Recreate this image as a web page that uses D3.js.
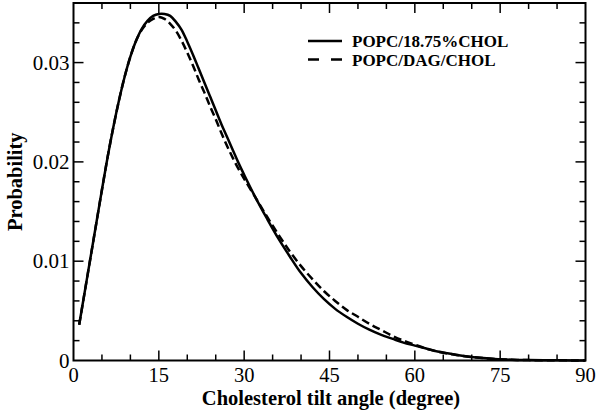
<!DOCTYPE html>
<html><head><meta charset="utf-8">
<script src="https://cdn.jsdelivr.net/npm/d3@7"></script>
<style>body{margin:0;background:#fff}svg{display:block}</style>
</head><body>
<svg id="c" width="600" height="412"></svg>
<script>
const xMajor = [0, 15, 30, 45, 60, 75, 90];
const yMajor = [0, 0.01, 0.02, 0.03];
const seriesNames = ["POPC/18.75%CHOL", "POPC/DAG/CHOL"];
const angles = [1,2,3,4,5,6,7,8,9,10,11,12,13,14,15,16,17,18,19,20,21,22,23,24,25,26,27,28,29,30,32,34,36,38,40,42,44,46,48,50,52,54,56,58,60,62,64,66,68,70,72,74,76,78,80,84,88,90];
const popcChol = [0.0036,0.0070,0.0104,0.0138,0.0172,0.0205,0.0235,0.0262,0.0286,0.0306,0.0322,0.0334,0.0342,0.0347,0.0349,0.0349,0.0347,0.0341,0.0333,0.0321,0.0308,0.0294,0.0280,0.0266,0.0252,0.0238,0.0225,0.0212,0.0199,0.0187,0.0164,0.0143,0.0123,0.0105,0.0088,0.0074,0.0062,0.0052,0.0044,0.0037,0.0031,0.0026,0.0022,0.0018,0.0015,0.0012,0.0009,0.0007,0.0005,0.00035,0.00024,0.00015,0.0001,0.00006,0.00004,0.00002,0.00001,0];
const popcDagChol = [0.0036,0.0070,0.0104,0.0138,0.0172,0.0205,0.0235,0.0262,0.0286,0.0306,0.0322,0.0333,0.0340,0.0344,0.0346,0.0344,0.0339,0.0332,0.0322,0.0310,0.0297,0.0283,0.0270,0.0256,0.0243,0.0229,0.0216,0.0204,0.0193,0.0183,0.0164,0.0145,0.0127,0.0110,0.0095,0.0082,0.0070,0.0060,0.0051,0.0044,0.0037,0.0031,0.0025,0.0020,0.0016,0.0012,0.0009,0.0007,0.0005,0.00035,0.00024,0.00015,0.0001,0.00006,0.00004,0.00002,0.00001,0];

const svg = d3.select("#c");
const L = 73.5, R = 585.5, T = 3, B = 360.5;
const x = d3.scaleLinear().domain([0, 90]).range([L, R]);
const y = d3.scaleLinear().domain([0, 0.036]).range([B, T]);
const serif = "'Liberation Serif','Times New Roman',serif";

const xMinor = d3.range(0, 90.01, 5).filter(v => !xMajor.includes(v));
const yMinor = d3.range(0, 0.0361, 0.002).map(v => +v.toFixed(3)).filter(v => !yMajor.some(m => Math.abs(m - v) < 1e-9));

const g = svg.append("g").attr("stroke", "#000").attr("stroke-width", 1.5);
function ticks(vals, len) {
  vals.forEach(v => {
    g.append("line").attr("x1", x(v)).attr("x2", x(v)).attr("y1", B).attr("y2", B - len);
    g.append("line").attr("x1", x(v)).attr("x2", x(v)).attr("y1", T).attr("y2", T + len);
  });
}
function yticks(vals, len) {
  vals.forEach(v => {
    g.append("line").attr("y1", y(v)).attr("y2", y(v)).attr("x1", L).attr("x2", L + len);
    g.append("line").attr("y1", y(v)).attr("y2", y(v)).attr("x1", R).attr("x2", R - len);
  });
}
ticks(xMajor.filter(v => v > 0 && v < 90), 10);
ticks(xMinor, 6);
yticks(yMajor.filter(v => v > 0), 10);
yticks(yMinor, 6);

const line = d3.line().x(d => x(d[0])).y(d => y(d[1])).curve(d3.curveCatmullRom.alpha(0.5));
svg.append("path").datum(angles.map((a, i) => [a, popcChol[i]]))
  .attr("d", line).attr("fill", "none").attr("stroke", "#000").attr("stroke-width", 2.5);
svg.append("path").datum(angles.map((a, i) => [a, popcDagChol[i]]))
  .attr("d", line).attr("fill", "none").attr("stroke", "#000").attr("stroke-width", 2.5)
  .attr("stroke-dasharray", "8,4");

svg.append("rect").attr("x", L).attr("y", T).attr("width", R - L).attr("height", B - T)
  .attr("fill", "none").attr("stroke", "#000").attr("stroke-width", 2);

const fmtY = v => v === 0 ? "0" : d3.format(".2f")(v);
svg.append("g").selectAll("text").data(yMajor).join("text")
  .attr("x", L - 4).attr("y", d => y(d)).attr("dy", "0.34em").attr("text-anchor", "end")
  .attr("font-family", serif).attr("font-size", 21).text(fmtY);
svg.append("g").selectAll("text").data(xMajor).join("text")
  .attr("x", d => x(d)).attr("y", 382).attr("text-anchor", "middle")
  .attr("font-family", serif).attr("font-size", 20.5).text(d => d);

svg.append("text").attr("x", 331).attr("y", 405).attr("text-anchor", "middle")
  .attr("font-family", serif).attr("font-weight", "bold").attr("font-size", 20.5)
  .text("Cholesterol tilt angle (degree)");
svg.append("text").attr("transform", `translate(22,${(T + B) / 2}) rotate(-90)`)
  .attr("text-anchor", "middle").attr("font-family", serif).attr("font-weight", "bold")
  .attr("font-size", 20.5).text("Probability");

const leg = svg.append("g");
const dashes = [null, "11,12"];
seriesNames.forEach((n, i) => {
  const yy = 41 + i * 18.5;
  leg.append("line").attr("x1", 308).attr("x2", 342).attr("y1", yy).attr("y2", yy)
    .attr("stroke", "#000").attr("stroke-width", 2.5).attr("stroke-dasharray", dashes[i]);
  leg.append("text").attr("x", 352).attr("y", yy + 6).attr("font-family", serif)
    .attr("font-weight", "bold").attr("font-size", 17).text(n);
});
</script>
</body></html>
